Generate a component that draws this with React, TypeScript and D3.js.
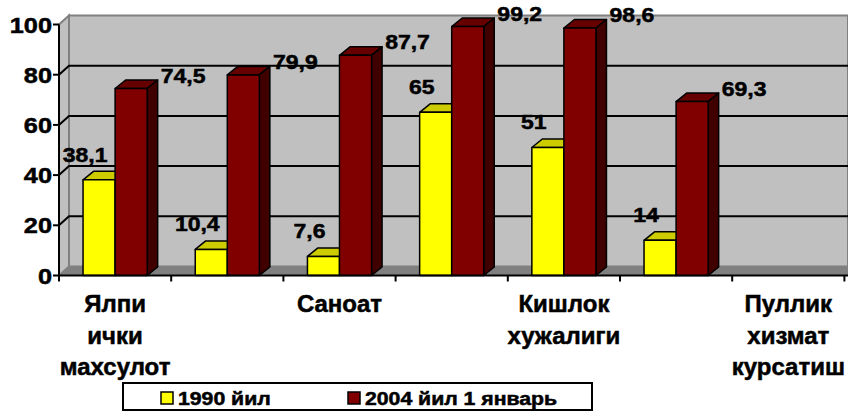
import React from "react";
import * as d3 from "d3";

const categories = ["Ялпи ички махсулот", "", "Саноат", "", "Кишлок хужалиги", "", "Пуллик хизмат курсатиш"];
const series1990 = [38.1, 10.4, 7.6, 65, 51, 14, null];
const series2004 = [74.5, 79.9, 87.7, 99.2, 98.6, 69.3, null];
const seriesNames = ["1990 йил", "2004 йил 1 январь"];
const yTicks = [0, 20, 40, 60, 80, 100];

const W = 848, H = 411;
const FONT = "Arial, 'Liberation Sans', sans-serif";
const DX = 10, DY = 9; // wall depth
const BDX = 10.5, BDY = 8.5; // bar depth

const colors = [
  { front: "#FFFF00", top: "#CCCC00", side: "#999900" },
  { front: "#800000", top: "#660000", side: "#400000" },
];

const fmt = (v: number) => String(v).replace(".", ",");

export default function App() {
  const x = d3.scaleBand<number>().domain(categories.map((_, i) => i)).range([59, 59 + 112.2 * 7]).paddingInner(0).paddingOuter(0);
  const y = d3.scaleLinear().domain([0, 100]).range([275.5, 24.5]);
  const inner = d3.scaleBand<number>().domain([0, 1]).range([0, x.bandwidth()]).paddingInner(0).paddingOuter(0.75);
  const x0 = 59, xr = W;
  const y0 = y(0);
  const series = [series1990, series2004];
  const textStroke = { stroke: "#000", strokeWidth: 0.5 };

  const bars: any[] = [];
  categories.forEach((_, i) => {
    series.forEach((s, k) => {
      const v = s[i];
      if (v == null) return;
      const bx = (x(i) as number) + (inner(k) as number);
      const bw = inner.bandwidth();
      const top = y(v);
      const c = colors[k];
      bars.push(
        <g key={`b${i}-${k}`} stroke="#000" strokeWidth={1.5} strokeLinejoin="round">
          <polygon points={`${bx},${top} ${bx + BDX},${top - BDY} ${bx + bw + BDX},${top - BDY} ${bx + bw},${top}`} fill={c.top} />
          <polygon points={`${bx + bw},${top} ${bx + bw + BDX},${top - BDY} ${bx + bw + BDX},${y0 - BDY} ${bx + bw},${y0}`} fill={c.side} />
          <rect x={bx} y={top} width={bw} height={y0 - top} fill={c.front} />
        </g>
      );
    });
  });

  const labels: any[] = [];
  categories.forEach((_, i) => {
    series.forEach((s, k) => {
      const v = s[i];
      if (v == null) return;
      const bx = (x(i) as number) + (inner(k) as number) + inner.bandwidth() / 2;
      const lx = k === 0 ? bx - 14 : bx + 52;
      const ly = k === 0 ? y(v) - 18 : y(v) - 6;
      labels.push(
        <text key={`l${i}-${k}`} transform={`translate(${lx},${ly}) scale(1.15,1)`} textAnchor="middle" fontFamily={FONT} fontWeight="bold" fontSize={20} fill="#000" {...textStroke}>
          {fmt(v)}
        </text>
      );
    });
  });

  return (
    <svg width={W} height={H} style={{ position: "absolute", left: 0, top: 0, background: "#fff" }}>
      {/* back wall */}
      <rect x={x0 + DX} y={y(100) - DY} width={xr - x0 - DX} height={y0 - y(100)} fill="#C0C0C0" stroke="#808080" strokeWidth={2} />
      {/* side wall */}
      <polygon points={`${x0},${y0} ${x0 + DX},${y0 - DY} ${x0 + DX},${y(100) - DY} ${x0},${y(100)}`} fill="#C0C0C0" stroke="#808080" strokeWidth={2} />
      {/* floor */}
      <polygon points={`${x0},${y0} ${x0 + DX},${y0 - DY} ${xr},${y0 - DY} ${xr},${y0}`} fill="#808080" stroke="#808080" strokeWidth={1} />
      {/* gridlines */}
      {yTicks.filter((t) => t > 0 && t < 100).map((t) => (
        <polyline key={`g${t}`} points={`${x0},${y(t)} ${x0 + DX},${y(t) - DY} ${xr},${y(t) - DY}`} fill="none" stroke="#000" strokeWidth={2} />
      ))}
      {bars}
      {/* y axis */}
      <line x1={x0} x2={x0} y1={y(100)} y2={y0} stroke="#000" strokeWidth={2} />
      {yTicks.map((t) => (
        <g key={`yt${t}`}>
          <line x1={x0 - 6} x2={x0} y1={y(t)} y2={y(t)} stroke="#000" strokeWidth={2} />
          <text transform={`translate(52,${y(t) + 8}) scale(1.15,1)`} textAnchor="end" fontFamily={FONT} fontWeight="bold" fontSize={22} {...textStroke}>
            {t}
          </text>
        </g>
      ))}
      {/* x axis */}
      <line x1={x0} x2={xr} y1={y0} y2={y0} stroke="#000" strokeWidth={2} />
      {[...categories.map((_, i) => x(i) as number), (x(categories.length - 1) as number) + x.bandwidth()].map((px, i) => (
        <line key={`xt${i}`} x1={px} x2={px} y1={y0} y2={y0 + 6} stroke="#000" strokeWidth={2} />
      ))}
      {categories.map((c, i) =>
        c ? (
          <text key={`c${i}`} textAnchor="middle" fontFamily={FONT} fontWeight="bold" fontSize={24} {...textStroke}>
            {c.split(" ").map((w, j) => (
              <tspan key={j} x={(x(i) as number) + x.bandwidth() / 2} y={312 + j * 31.5}>
                {w}
              </tspan>
            ))}
          </text>
        ) : null
      )}
      {labels}
      {/* legend */}
      <rect x={123} y={383} width={469} height={27} fill="#fff" stroke="#000" strokeWidth={2} />
      {seriesNames.map((n, k) => {
        const lx = k === 0 ? 161 : 348;
        return (
          <g key={`lg${k}`}>
            <rect x={lx} y={392} width={12} height={12} fill={colors[k].front} stroke="#000" strokeWidth={1.5} />
            <text transform={`translate(${lx + 17},405) scale(1.18,1)`} fontFamily={FONT} fontWeight="bold" fontSize={18} {...textStroke}>
              {n}
            </text>
          </g>
        );
      })}
    </svg>
  );
}
